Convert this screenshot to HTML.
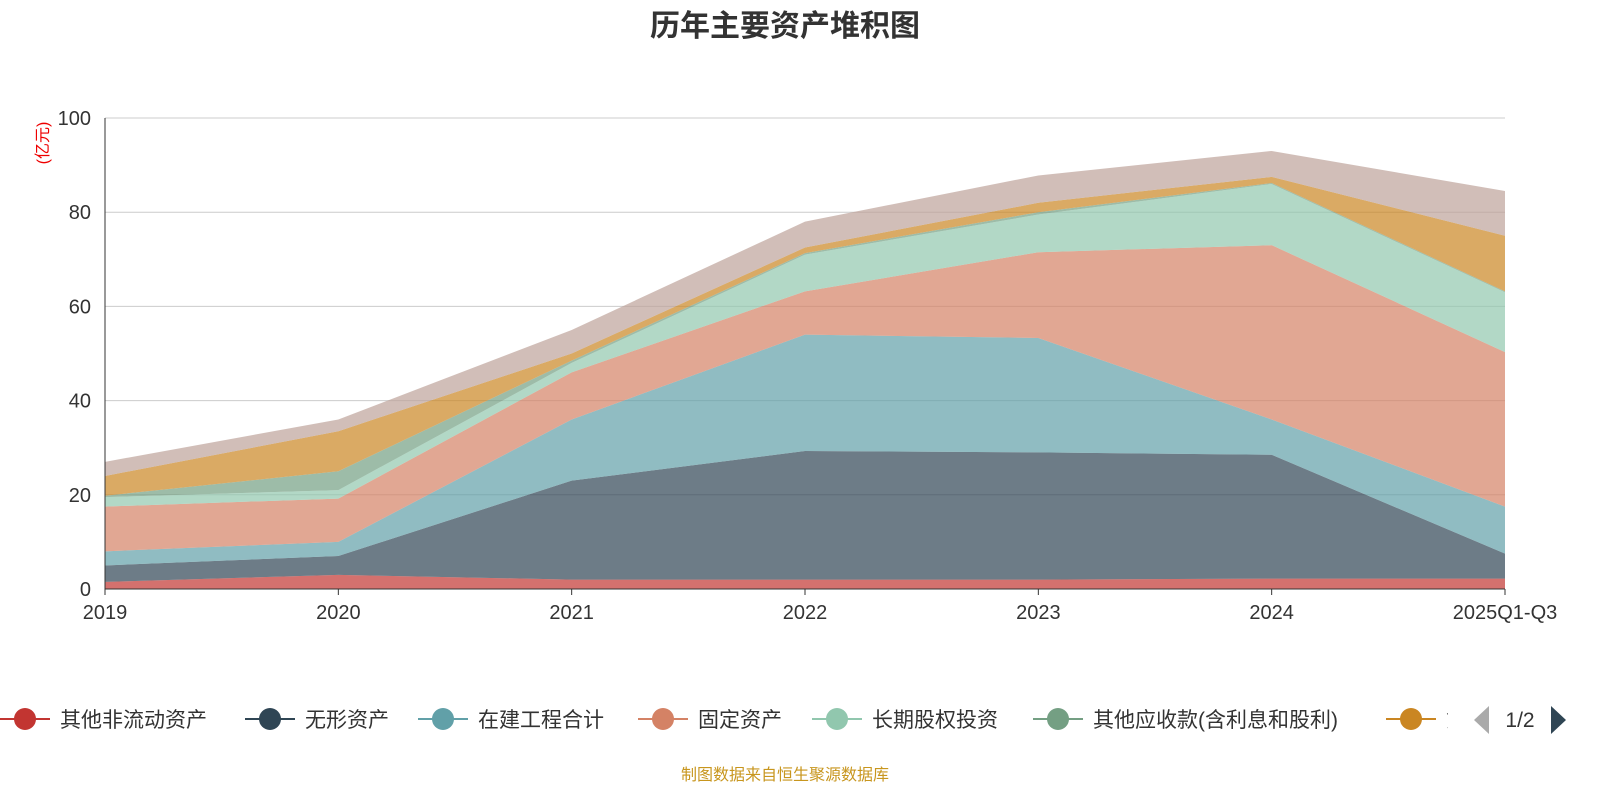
<!DOCTYPE html>
<html><head><meta charset="utf-8"><style>
body{margin:0;background:#fff;font-family:"Liberation Sans","Noto Sans CJK SC",sans-serif}
svg text{font-family:"Liberation Sans","Noto Sans CJK SC",sans-serif}
</style></head><body>
<svg id="c" width="1600" height="800">
<text x="785" y="36" text-anchor="middle" font-size="30" font-weight="bold" fill="#333">历年主要资产堆积图</text>
<text x="0" y="0" transform="translate(48,143) rotate(-90)" text-anchor="middle" font-size="16" fill="#e00">(亿元)</text>
<g id="grid"></g><g id="areas"></g><g id="axes"></g><g id="legend"></g>
<text x="785" y="780" text-anchor="middle" font-size="16" fill="#c8961e">制图数据来自恒生聚源数据库</text>
</svg>
<script>
const categories=["2019","2020","2021","2022","2023","2024","2025Q1-Q3"];
const seriesNames=["其他非流动资产","无形资产","在建工程合计","固定资产","长期股权投资","其他应收款(含利息和股利)","货币资金","其他"];
const s1=[1.5,3,2,2,2,2.2,2.2];
const s2=[3.5,4,21,27.3,27,26.3,5.3];
const s3=[3,3,13,24.7,24.3,7.5,10];
const s4=[9.5,9.2,10,9.2,18.2,37,32.8];
const s5=[2,1.8,2,7.8,8,13,12.7];
const s6=[0.3,4,0.5,0.3,0.5,0.2,0.2];
const s7=[4.2,8.5,1.5,1.2,2,1.3,11.8];
const s8=[3,2.5,5,5.5,5.8,5.5,9.5];
const yTicks=[0,20,40,60,80,100];
const series=[s1,s2,s3,s4,s5,s6,s7,s8];
const colors=["#c23531","#2f4554","#61a0a8","#d48265","#91c7ae","#749f83","#ca8622","#bda29a"];
const NS="http://www.w3.org/2000/svg";
const x0=105,x1=1505,yb=589,yt=118;
const X=i=>x0+i*(x1-x0)/(categories.length-1);
const Y=v=>yb-(v/100)*(yb-yt);
function el(t,a,p){const e=document.createElementNS(NS,t);for(const k in a)e.setAttribute(k,a[k]);p.appendChild(e);return e;}
const grid=document.getElementById('grid'),axes=document.getElementById('axes'),areas=document.getElementById('areas'),leg=document.getElementById('legend');
yTicks.forEach(v=>{
 if(v>0){const g=el('line',{x1:x0,x2:x1,y1:Y(v),y2:Y(v),stroke:'#ccc'},grid);
 
 }
 const t=el('text',{x:x0-14,y:Y(v)+7,'text-anchor':'end','font-size':20,fill:'#333'},axes);t.textContent=v;
 
 
});
let base=categories.map(()=>0);
series.forEach((s,k)=>{
 const top=base.map((b,i)=>b+s[i]);
 let d='M'+top.map((v,i)=>X(i)+','+Y(v)).join('L');
 for(let i=categories.length-1;i>=0;i--)d+='L'+X(i)+','+Y(base[i]);
 const p=el('path',{d:d+'Z',fill:colors[k],'fill-opacity':0.7},areas);
 
 
 base=top;
});
el('line',{x1:x0,x2:x0,y1:yt,y2:yb,stroke:'#333'},axes);
el('line',{x1:x0,x2:x1,y1:yb,y2:yb,stroke:'#333'},axes);
categories.forEach((c,i)=>{
 el('line',{x1:X(i),x2:X(i),y1:yb,y2:yb+6,stroke:'#333'},axes);
 const t=el('text',{x:X(i),y:yb+30,'text-anchor':'middle','font-size':20,fill:'#333'},axes);t.textContent=c;
 
 
});
const lx=[0,245,418,638,812,1033,1386];
lx.forEach((x,k)=>{
 const g=el('g',{},leg);
 
 
 el('line',{x1:x,x2:x+50,y1:719,y2:719,stroke:colors[k],'stroke-width':2},g);
 el('circle',{cx:x+25,cy:719,r:11,fill:colors[k]},g);
 const t=el('text',{x:x+60,y:727,'font-size':21,fill:'#333'},g);t.textContent=k<6?seriesNames[k]:'货';
});
el('rect',{x:1448,y:700,width:22,height:40,fill:'#fff'},leg);
const pl=el('path',{d:'M1489,706L1474,720L1489,734Z',fill:'#aaa'},leg);


const pt=el('text',{x:1520,y:727,'text-anchor':'middle','font-size':21,fill:'#333'},leg);pt.textContent='1/2';


const pn=el('path',{d:'M1551,706L1566,720L1551,734Z',fill:'#2f4554'},leg);


</script>
</body></html>
